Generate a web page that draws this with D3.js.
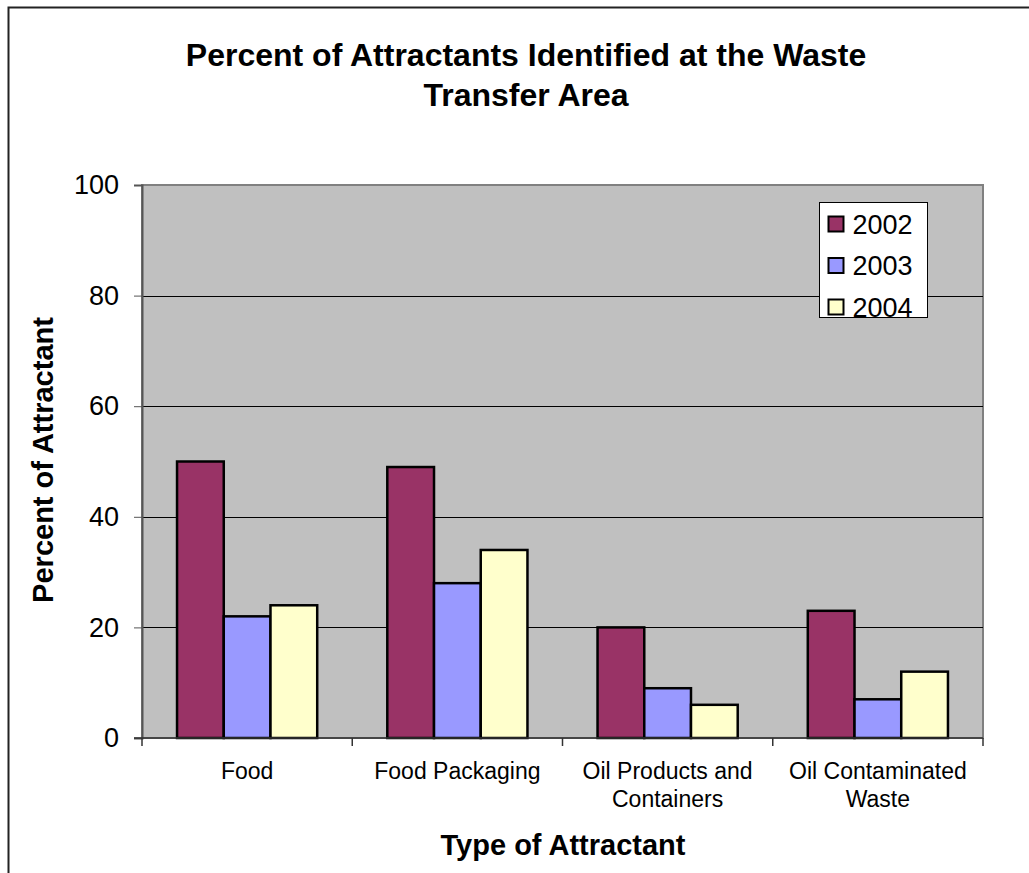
<!DOCTYPE html>
<html>
<head>
<meta charset="utf-8">
<script src="https://cdn.jsdelivr.net/npm/d3@7"></script>
<style>
  body { margin: 0; background: #fff; }
  svg text { font-family: "Liberation Sans", Arial, sans-serif; fill: #000; }
</style>
</head>
<body>
<svg id="chart" width="1029" height="873"></svg>
<script>
// Chart data
const categories = [
    ['Food'],
    ['Food Packaging'],
    ['Oil Products and', 'Containers'],
    ['Oil Contaminated', 'Waste']
];
const years = ['2002', '2003', '2004'];
const values2002 = [50, 49, 20, 23];
const values2003 = [22, 28, 9, 7];
const values2004 = [24, 34, 6, 12];
const yTicks = [0, 20, 40, 60, 80, 100];
const seriesColors = ['#993366', '#9999FF', '#FFFFCC'];

let series = [values2002, values2003, values2004];

let margin = {top: 185, left: 142, right: 1029 - 983, bottom: 873 - 738};
let width = 1029 - margin.left - margin.right;
let height = 873 - margin.top - margin.bottom;

let svg = d3.select('#chart');

// outer chart border (runs off the right/bottom of the frame)
svg.append('rect')
    .attr('x', 8.5).attr('y', 7.5)
    .attr('width', 1100).attr('height', 1000)
    .attr('fill', 'none')
    .attr('stroke', '#222')
    .attr('stroke-width', 2);

// title
let title = svg.append('text')
    .attr('text-anchor', 'middle')
    .style('font-weight', 'bold')
    .style('font-size', '32px');
title.append('tspan').attr('x', 526).attr('y', 66).text('Percent of Attractants Identified at the Waste');
title.append('tspan').attr('x', 526).attr('y', 106).text('Transfer Area');

let g = svg.append('g')
    .attr('transform', 'translate(' + margin.left + ',' + margin.top + ')');

let x = d3.scaleBand()
    .domain(d3.range(categories.length))
    .range([0, width]);

let xInner = d3.scaleBand()
    .domain(years)
    .range([0, x.bandwidth()])
    .paddingOuter(0.75);

let y = d3.scaleLinear()
    .domain([0, 100])
    .range([height, 0]);

// plot background
g.append('rect')
    .attr('width', width)
    .attr('height', height)
    .attr('fill', '#C0C0C0')
    .attr('stroke', '#808080')
    .attr('stroke-width', 2);

// gridlines
g.selectAll('.grid')
    .data(yTicks.filter(d => d > 0 && d < 100))
    .enter().append('line')
    .attr('class', 'grid')
    .attr('x1', 0).attr('x2', width)
    .attr('y1', d => Math.round(y(d)) + 0.5)
    .attr('y2', d => Math.round(y(d)) + 0.5)
    .attr('stroke', '#000')
    .attr('stroke-width', 1);

// bars
years.forEach((yr, i) => {
    g.selectAll('.bar' + yr)
        .data(series[i])
        .enter().append('rect')
        .attr('class', 'bar' + yr)
        .attr('x', (d, j) => x(j) + xInner(yr))
        .attr('y', d => y(d))
        .attr('width', xInner.bandwidth())
        .attr('height', d => height - y(d))
        .attr('fill', seriesColors[i])
        .attr('stroke', '#000')
        .attr('stroke-width', 2.5);
});

// y axis
let yAxis = g.append('g')
    .call(d3.axisLeft(y).tickValues(yTicks).tickSize(8).tickPadding(15));
yAxis.select('.domain').attr('stroke', '#555').attr('stroke-width', 2);
yAxis.selectAll('.tick line').attr('stroke', '#555');
yAxis.selectAll('.tick text')
    .style('font-size', '27px')
    .style('font-family', '"Liberation Sans", Arial, sans-serif');

// x axis
let xAxisG = g.append('g')
    .attr('transform', 'translate(0,' + height + ')');
xAxisG.append('line')
    .attr('x1', -8).attr('x2', width)
    .attr('y1', 0).attr('y2', 0)
    .attr('stroke', '#333').attr('stroke-width', 1.5);
xAxisG.selectAll('.xtick')
    .data(d3.range(categories.length + 1))
    .enter().append('line')
    .attr('x1', d => d < categories.length ? x(d) : width)
    .attr('x2', d => d < categories.length ? x(d) : width)
    .attr('y1', 0).attr('y2', 8)
    .attr('stroke', '#333').attr('stroke-width', 1.5);

let labels = xAxisG.selectAll('.xlabel')
    .data(categories)
    .enter().append('text')
    .attr('class', 'xlabel')
    .attr('text-anchor', 'middle')
    .style('font-size', '23px');
labels.selectAll('tspan')
    .data((d, i) => d.map(line => ({line, i})))
    .enter().append('tspan')
    .attr('x', d => x(d.i) + x.bandwidth() / 2)
    .attr('y', (d, k) => 41 + k * 28)
    .text(d => d.line);

// axis titles
svg.append('text')
    .attr('text-anchor', 'middle')
    .attr('x', 563).attr('y', 855)
    .style('font-weight', 'bold')
    .style('font-size', '29px')
    .text('Type of Attractant');

svg.append('text')
    .attr('text-anchor', 'middle')
    .attr('transform', 'translate(53,460) rotate(-90)')
    .style('font-weight', 'bold')
    .style('font-size', '29px')
    .text('Percent of Attractant');

// legend
let legend = svg.append('g').attr('transform', 'translate(819.5,202.5)');
legend.append('rect')
    .attr('width', 108).attr('height', 115)
    .attr('fill', '#fff')
    .attr('stroke', '#000')
    .attr('stroke-width', 1);
years.forEach((yr, i) => {
    let row = legend.append('g').attr('transform', 'translate(0,' + (i * 41.5) + ')');
    row.append('rect')
        .attr('x', 9).attr('y', 14)
        .attr('width', 15).attr('height', 15)
        .attr('fill', seriesColors[i])
        .attr('stroke', '#000')
        .attr('stroke-width', 2);
    row.append('text')
        .attr('x', 33).attr('y', 31)
        .style('font-size', '27px')
        .text(yr);
});
</script>
</body>
</html>
